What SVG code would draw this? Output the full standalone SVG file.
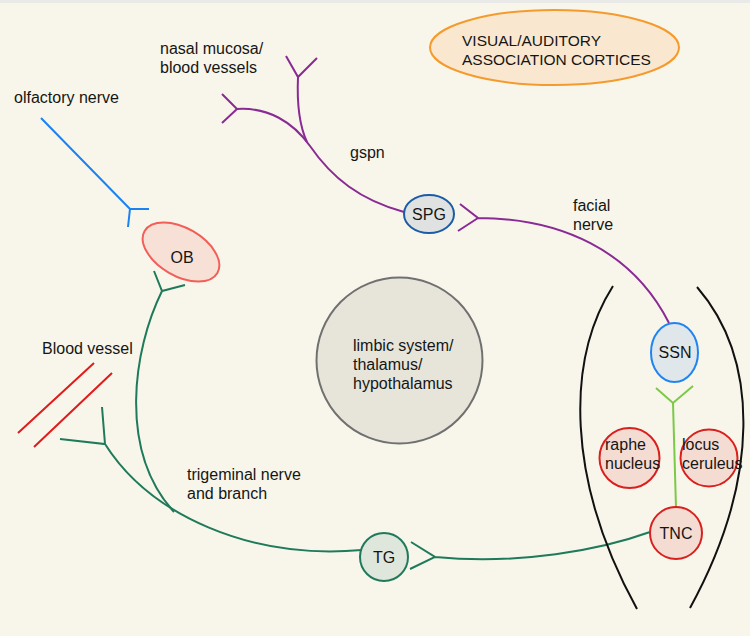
<svg xmlns="http://www.w3.org/2000/svg" width="750" height="636" viewBox="0 0 750 636">
<style>
text{font-family:"Liberation Sans",Arial,sans-serif;font-size:16px;fill:#151515}
.cap{font-size:15.5px}
.c{text-anchor:middle}
.n{fill:none;stroke-width:2;stroke-linecap:butt;stroke-linejoin:miter}
.pu{stroke:#8a2a95}
.bl{stroke:#1b82f2}
.gr{stroke:#1f7a5b}
.lg{stroke:#7cc947}
.rd{stroke:#e01b1b}
.bk{stroke:#111;fill:none;stroke-width:2}
</style>
<rect x="0" y="0" width="750" height="636" fill="#f8f6ea"/>
<rect x="0" y="0" width="750" height="3" fill="#e9e9e7"/>

<g id="connectors">
  <!-- olfactory nerve -->
  <path class="n bl" d="M41,118 L130,209 M149,209 L130,209 L128,227"/>
  <!-- nasal mucosa / gspn -->
  <path class="n pu" d="M222,94 L237,109 L222,123 M237,109 C268,107 293,122 310,146 C332,178 360,200 404,212"/>
  <path class="n pu" d="M286,56 L298,77 L317,58 M298,77 C297,100 299,125 307,142"/>
  <!-- facial nerve -->
  <path class="n pu" d="M460,204 L478,218 L458,231 M478,218 C560,218 632,250 669,323"/>
  <!-- trigeminal -->
  <path class="n gr" d="M102,407 L105,444 L60,439 M105,444 C150,515 250,560 362,550"/>
  <path class="n gr" d="M154,271 L162,291 L185,285 M162,291 C133,350 118,450 174,512"/>
  <path class="n gr" d="M411,542 L435,557 L410,569 M435,557 C520,565 600,550 650,532"/>
  <!-- SSN to TNC -->
  <path class="n lg" d="M656,388 L673,403 L693,386 M673,403 L676,508"/>
  <!-- blood vessel -->
  <path class="n rd" d="M94,363 L18,433 M112,373 L34,447"/>
  <!-- brainstem outline -->
  <path class="bk" d="M613,286 C566,360 566,480 637,609"/>
  <path class="bk" d="M697,287 C760,360 760,480 690,608"/>
</g>

<g id="visual">
  <ellipse cx="554.5" cy="47.5" rx="124.5" ry="37.5" fill="#f9e8cf" stroke="#f59a2c" stroke-width="2"/>
  <text class="cap" x="462" y="46">VISUAL/AUDITORY</text>
  <text class="cap" x="462" y="65">ASSOCIATION CORTICES</text>
</g>
<g id="limbic">
  <circle cx="399.5" cy="360.5" r="83" fill="#e7e5da" stroke="#707070" stroke-width="2"/>
  <text x="353" y="351">limbic system/</text>
  <text x="353" y="370">thalamus/</text>
  <text x="353" y="389">hypothalamus</text>
</g>
<g id="OB">
  <ellipse cx="181" cy="252" rx="42" ry="24" transform="rotate(30 181 252)" fill="#f7e0d6" stroke="#f25e58" stroke-width="2"/>
  <text class="c" x="182" y="263">OB</text>
</g>
<g id="SPG">
  <ellipse cx="429" cy="214" rx="25" ry="19" fill="#dfe2e0" stroke="#1b5ca8" stroke-width="2"/>
  <text class="c" x="429" y="220">SPG</text>
</g>
<g id="SSN">
  <ellipse cx="674.5" cy="352.5" rx="23.5" ry="29.5" fill="#dfe7ea" stroke="#1f84f2" stroke-width="2"/>
  <text class="c" x="675" y="358">SSN</text>
</g>
<g id="raphe">
  <circle cx="629.5" cy="458" r="30" fill="#f5dcd2" stroke="#d9201e" stroke-width="2"/>
  <text x="605" y="450">raphe</text>
  <text x="605" y="469">nucleus</text>
</g>
<g id="locus">
  <circle cx="709" cy="458" r="28.5" fill="#f5dcd2" stroke="#d9201e" stroke-width="2"/>
  <text x="682" y="450">locus</text>
  <text x="682" y="469">ceruleus</text>
</g>
<g id="TNC">
  <circle cx="676" cy="533" r="26" fill="#f5dcd2" stroke="#d9201e" stroke-width="2"/>
  <text class="c" x="676" y="539">TNC</text>
</g>
<g id="TG">
  <circle cx="384" cy="557" r="24" fill="#dfe6dc" stroke="#1f7a5b" stroke-width="2"/>
  <text class="c" x="384" y="563">TG</text>
</g>

<g id="labels">
  <text x="160" y="54">nasal mucosa/</text>
  <text x="160" y="73">blood vessels</text>
  <text x="14" y="103">olfactory nerve</text>
  <text x="350" y="158">gspn</text>
  <text x="573" y="211">facial</text>
  <text x="573" y="230">nerve</text>
  <text x="42" y="354">Blood vessel</text>
  <text x="187" y="480">trigeminal nerve</text>
  <text x="187" y="499">and branch</text>
</g>
</svg>
